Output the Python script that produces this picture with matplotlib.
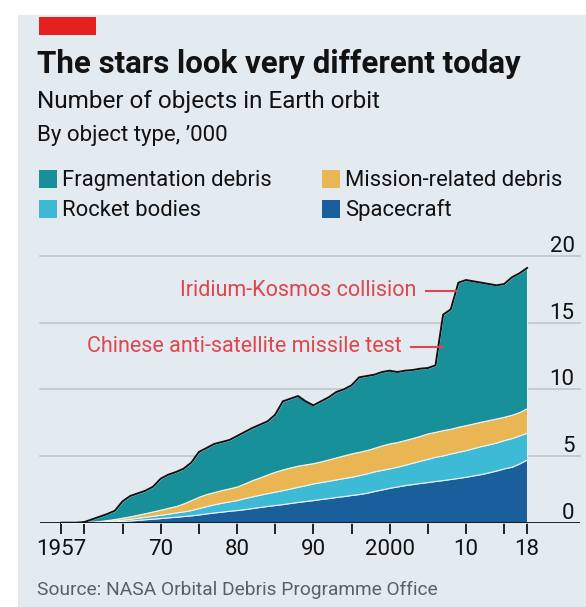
import matplotlib
matplotlib.use("Agg")
import matplotlib.pyplot as plt
from matplotlib.patches import Rectangle
import numpy as np

plt.rcParams["font.family"] = ["Roboto", "DejaVu Sans"]

# Objects in Earth orbit by type, '000
years = list(range(1957, 2019))
spacecraft = [
    0, 0, 0, 0.01, 0.02, 0.04, 0.06, 0.10, 0.13, 0.17,
    0.21, 0.26, 0.30, 0.35, 0.40, 0.45, 0.50, 0.55, 0.62, 0.70,
    0.77, 0.83, 0.90, 0.95, 1.02, 1.10, 1.18, 1.26, 1.33, 1.40,
    1.48, 1.56, 1.63, 1.70, 1.78, 1.85, 1.93, 2.00, 2.08, 2.15,
    2.25, 2.38, 2.50, 2.62, 2.72, 2.82, 2.90, 2.98, 3.05, 3.13,
    3.20, 3.28, 3.36, 3.45, 3.55, 3.65, 3.78, 3.92, 4.08, 4.20,
    4.45, 4.75,
]
rocket_bodies = [
    0, 0, 0, 0.01, 0.03, 0.04, 0.06, 0.07, 0.10, 0.13,
    0.16, 0.19, 0.22, 0.25, 0.28, 0.32, 0.35, 0.40, 0.48, 0.55,
    0.61, 0.67, 0.70, 0.75, 0.83, 0.88, 0.92, 0.96, 1.00, 1.05,
    1.09, 1.14, 1.19, 1.25, 1.27, 1.30, 1.32, 1.35, 1.37, 1.42,
    1.45, 1.47, 1.47, 1.46, 1.48, 1.53, 1.60, 1.67, 1.75, 1.82,
    1.85, 1.92, 1.96, 2.00, 2.05, 2.10, 2.10, 2.10, 2.12, 2.15,
    2.10, 2.00,
]
mission_debris = [
    0, 0, 0, 0.02, 0.03, 0.05, 0.08, 0.11, 0.15, 0.18,
    0.23, 0.27, 0.33, 0.38, 0.44, 0.48, 0.60, 0.75, 0.85, 0.90,
    0.92, 0.95, 0.98, 1.02, 1.10, 1.22, 1.30, 1.40, 1.50, 1.55,
    1.58, 1.58, 1.56, 1.52, 1.55, 1.60, 1.65, 1.70, 1.75, 1.75,
    1.75, 1.77, 1.83, 1.87, 1.85, 1.85, 1.85, 1.87, 1.90, 1.87,
    1.90, 1.85, 1.88, 1.87, 1.85, 1.83, 1.82, 1.80, 1.75, 1.75,
    1.75, 1.85,
]
fragmentation = [
    0, 0, 0, 0.01, 0.17, 0.32, 0.45, 0.62, 1.22, 1.52,
    1.60, 1.68, 1.85, 2.32, 2.48, 2.55, 2.60, 2.80, 3.35, 3.45,
    3.60, 3.60, 3.62, 3.78, 3.85, 3.90, 3.95, 3.98, 4.27, 5.10,
    5.15, 5.22, 4.72, 4.33, 4.50, 4.65, 4.90, 4.95, 5.10, 5.58,
    5.55, 5.48, 5.50, 5.45, 5.25, 5.20, 5.10, 5.03, 4.90, 4.98,
    8.65, 8.95, 10.80, 10.88, 10.65, 10.42, 10.20, 9.98, 9.95, 10.30,
    10.40, 10.50,
]

labels = ["Fragmentation debris", "Rocket bodies", "Mission-related debris", "Spacecraft"]
xtick_years = [1957, 1960, 1965, 1970, 1975, 1980, 1985, 1990, 1995,
               2000, 2005, 2010, 2015, 2018]
xtick_text = {1957: "1957", 1970: "70", 1980: "80", 1990: "90",
              2000: "2000", 2010: "10", 2018: "18"}
yticks = [0, 5, 10, 15, 20]

BG = "#e3eaf0"
C_FRAG = "#17909a"
C_ROCKET = "#3dbad6"
C_MISSION = "#eab553"
C_CRAFT = "#1a5f9c"
RED = "#e0454e"
INK = "#121212"

W, H = 586, 607


def fx(px):
    return px / W


def fy(py):
    return 1 - py / H


fig = plt.figure(figsize=(W / 100, H / 100), dpi=100, facecolor="white")
fig.patches.append(Rectangle((fx(18), 0), 1 - fx(18), fy(15), transform=fig.transFigure,
                             facecolor=BG, edgecolor="none", zorder=-10))
fig.patches.append(Rectangle((fx(39), fy(35)), fx(96) - fx(39), fy(17) - fy(35),
                             transform=fig.transFigure, facecolor="#e5201f",
                             edgecolor="none", zorder=-5))

fig.text(fx(37), fy(73), "The stars look very different today", fontsize=22.5,
         fontweight="bold", color=INK, va="baseline")
fig.text(fx(37), fy(108), "Number of objects in Earth orbit", fontsize=17.5,
         color=INK, va="baseline")
fig.text(fx(37), fy(141), "By object type, \u2019000", fontsize=16,
         color=INK, va="baseline")

# legend, drawn by hand
legend_items = [
    (labels[0], C_FRAG, 39, 170),
    (labels[1], C_ROCKET, 39, 200),
    (labels[2], C_MISSION, 322, 170),
    (labels[3], C_CRAFT, 322, 200),
]
for text, color, lx, ly in legend_items:
    fig.patches.append(Rectangle((fx(lx), fy(ly + 18)), fx(18), 18 / H,
                                 transform=fig.transFigure, facecolor=color,
                                 edgecolor="none", zorder=-5))
    fig.text(fx(lx + 23), fy(ly + 16), text, fontsize=15.8, color=INK, va="baseline")

ax = fig.add_axes([fx(40), fy(522.7), fx(580) - fx(40), (522.7 - 256) / H])
ax.set_facecolor("none")

ax.stackplot(years, spacecraft, rocket_bodies, mission_debris, fragmentation,
             colors=[C_CRAFT, C_ROCKET, C_MISSION, C_FRAG],
             edgecolor="#eef3f6", linewidth=0.8, zorder=2)
total = np.sum([spacecraft, rocket_bodies, mission_debris, fragmentation], axis=0)
ax.plot(years, total, color="#111111", lw=1.4, zorder=3)

ax.set_xlim(1954.19, 2024.93)
ax.set_ylim(0, 20)

for v in yticks[1:]:
    ax.axhline(v, color="#b9c3cb", lw=1.1, zorder=1, clip_on=False)
ax.axhline(0, color="#111111", lw=1.3, zorder=4)
for v in yticks:
    ax.text(0.99, v + 0.3, str(v), transform=ax.get_yaxis_transform(),
            ha="right", va="baseline", fontsize=16, color=INK)

for s in ax.spines.values():
    s.set_visible(False)
ax.set_yticks([])
ax.set_xticks(xtick_years)
ax.set_xticklabels([xtick_text.get(y, "") for y in xtick_years])
ax.tick_params(axis="x", direction="out", length=8, width=1.3, color="#111111",
               labelsize=16, labelcolor=INK, pad=4)

# annotations
ax.text(2003.5, 17.4, "Iridium-Kosmos collision", color=RED, fontsize=15.5,
        ha="right", va="center")
ax.plot([2004.8, 2008.7], [17.4, 17.4], color=RED, lw=1.5, zorder=5)
ax.text(2001.6, 13.2, "Chinese anti-satellite missile test", color=RED, fontsize=15.5,
        ha="right", va="center")
ax.plot([2002.8, 2007.0], [13.2, 13.2], color=RED, lw=1.5, zorder=5)

fig.text(fx(37), fy(595), "Source: NASA Orbital Debris Programme Office",
         fontsize=13.8, color="#5a6066", va="baseline")

fig.savefig("out.png", dpi=100, facecolor=fig.get_facecolor())
